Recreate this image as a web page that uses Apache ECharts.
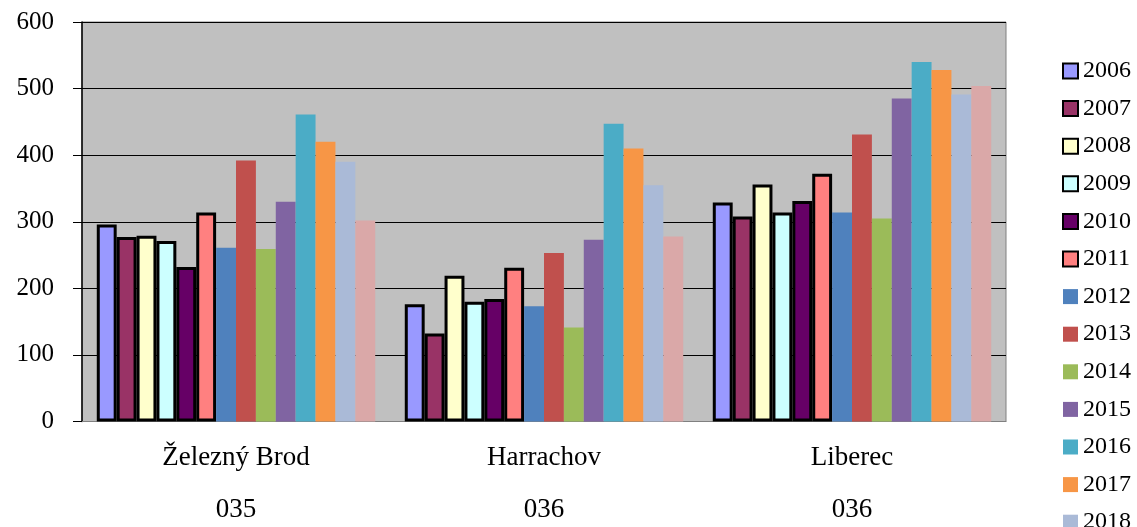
<!DOCTYPE html>
<html>
<head>
<meta charset="utf-8">
<script src="https://cdn.jsdelivr.net/npm/echarts@6/dist/echarts.min.js"></script>
<style>
html,body{margin:0;padding:0;background:#fff;}
#chart{width:1137px;height:527px;}
</style>
</head>
<body>
<div id="chart"></div>
<script>
const places = ['Železný Brod', 'Harrachov', 'Liberec'];
const codes = ['035', '036', '036'];
const years = ['2006','2007','2008','2009','2010','2011','2012','2013','2014','2015','2016','2017','2018','2019'];
const v2006 = [296, 176, 329];
const v2007 = [277, 132, 308];
const v2008 = [279, 219, 356];
const v2009 = [271, 180, 314];
const v2010 = [232, 184, 331];
const v2011 = [314, 231, 372];
const v2012 = [261, 173, 314];
const v2013 = [392, 253, 431];
const v2014 = [259, 141, 305];
const v2015 = [330, 273, 485];
const v2016 = [461, 447, 540];
const v2017 = [420, 410, 528];
const v2018 = [390, 355, 491];
const v2019 = [302, 278, 504];
const yTicks = [0, 100, 200, 300, 400, 500, 600];

const values = [v2006, v2007, v2008, v2009, v2010, v2011, v2012, v2013, v2014, v2015, v2016, v2017, v2018, v2019];
const colors = ['#9999FF','#993366','#FFFFCC','#CCFFFF','#660066','#FF8080','#4F81BD','#C0504D','#9BBB59','#8064A2','#4BACC6','#F79646','#AABAD7','#DAA8A8'];
const categories = places.map((p, i) => p + '\n' + codes[i]);
const font = '"Liberation Serif", "DejaVu Serif", serif';

const series = years.map((y, i) => ({
  name: y,
  type: 'bar',
  data: values[i],
  barGap: '0%',
  barCategoryGap: '9.6%',
  itemStyle: i < 6
    ? { color: colors[i], borderColor: '#000', borderWidth: 3 }
    : { color: colors[i], borderWidth: 0 },
  emphasis: { disabled: true }
}));

const chart = echarts.init(document.getElementById('chart'));
chart.setOption({
  animation: false,
  backgroundColor: '#fff',
  grid: {
    left: 82, right: 131, top: 22, bottom: 105.5,
    outerBoundsMode: 'none',
    containLabel: false,
    show: true, backgroundColor: '#C0C0C0', borderColor: '#808080', borderWidth: 1
  },
  legend: {
    type: 'plain',
    orient: 'vertical',
    left: 1062,
    top: 59,
    height: 700,
    padding: 0,
    itemWidth: 15,
    itemHeight: 15,
    itemGap: 13.6,
    icon: 'rect',
    textStyle: { fontFamily: font, fontSize: 24, color: '#000' },
    data: years
  },
  xAxis: {
    type: 'category',
    data: categories,
    axisLine: { lineStyle: { color: '#808080', width: 1 } },
    axisTick: { show: false },
    axisLabel: { fontFamily: font, fontSize: 27, color: '#000', lineHeight: 52, margin: 10 }
  },
  yAxis: {
    type: 'value',
    min: yTicks[0],
    max: yTicks[yTicks.length - 1],
    interval: 100,
    axisLine: { show: true, lineStyle: { color: '#000', width: 1.5 } },
    axisTick: { show: true, length: 9, lineStyle: { color: '#000' } },
    axisLabel: { fontFamily: font, fontSize: 25, color: '#000', margin: 28 },
    splitLine: { lineStyle: { color: '#000', width: 1 } }
  },
  series: series
});
</script>
</body>
</html>
